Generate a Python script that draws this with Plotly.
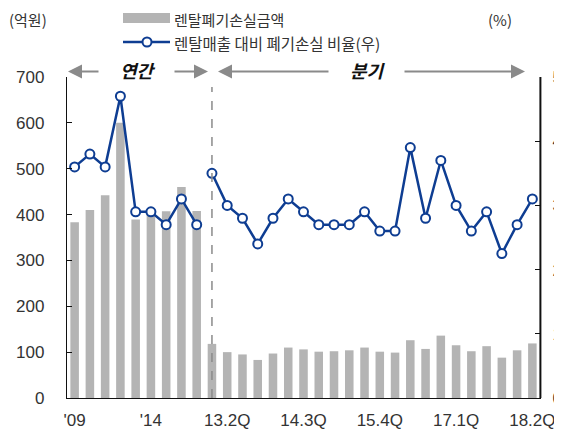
import plotly.graph_objects as go

# ---------------- data ----------------
annual_labels = ["'09", "'10", "'11", "'12", "'13", "'14", "'15", "'16", "'17"]
quarter_labels = ["13.1Q", "13.2Q", "13.3Q", "13.4Q",
                  "14.1Q", "14.2Q", "14.3Q", "14.4Q",
                  "15.1Q", "15.2Q", "15.3Q", "15.4Q",
                  "16.1Q", "16.2Q", "16.3Q", "16.4Q",
                  "17.1Q", "17.2Q", "17.3Q", "17.4Q",
                  "18.1Q", "18.2Q"]
annual_loss = [383, 410, 442, 600, 389, 400, 407, 460, 408]          # 억원
quarter_loss = [118, 100, 95, 83, 97, 110, 106, 101, 102, 104, 110,
                101, 99, 126, 107, 136, 115, 102, 113, 88, 104, 119]  # 억원
annual_ratio = [3.6, 3.8, 3.6, 4.7, 2.9, 2.9, 2.7, 3.1, 2.7]          # %
quarter_ratio = [3.5, 3.0, 2.8, 2.4, 2.8, 3.1, 2.9, 2.7, 2.7, 2.7, 2.9,
                 2.6, 2.6, 3.9, 2.8, 3.7, 3.0, 2.6, 2.9, 2.25, 2.7, 3.1]  # %
tick_show = ["'09", "'14", "13.2Q", "14.3Q", "15.4Q", "17.1Q", "18.2Q"]
tick_text = ["'09", "'14", "13.2Q", "14.3Q", "15.4Q", "17.1Q", "18.2Q"]

bar_name = "렌탈폐기손실금액"
line_name = "렌탈매출 대비 폐기손실 비율(우)"

categories = annual_labels + quarter_labels
loss_values = annual_loss + quarter_loss

# ---------------- style ----------------
OFF = 8                      # page body margin
W, H = 562 - OFF, 430 - OFF  # figure size that fits in the window
PL, PR, PT, PB = 67, 540, 77, 398   # plot box in window pixels
ML, MR, MT, MB = PL - OFF, W - (PR - OFF), PT - OFF, H - (PB - OFF)
PW = PR - PL
PH = PB - PT
FONT = "Liberation Sans, Arial, Noto Sans CJK KR, sans-serif"
KFONT = "Noto Sans CJK KR, Liberation Sans, sans-serif"
BAR_C = "#b4b4b4"
LINE_C = "#0e3d92"
TXT_C = "#333333"
ARROW_C = "#8a8a8a"
AXIS_C = "#111111"


def px(p):
    return (p - PL) / PW


def py(q):
    return (PB - q) / PH


fig = go.Figure()
fig.add_trace(go.Bar(x=categories, y=loss_values, marker_color=BAR_C,
                     marker_line_width=0, name=bar_name, showlegend=False))
for xs, ys in ((annual_labels, annual_ratio), (quarter_labels, quarter_ratio)):
    fig.add_trace(go.Scatter(x=xs, y=ys, yaxis="y2", mode="lines+markers",
                             line=dict(color=LINE_C, width=2.5),
                             marker=dict(size=9, color="white",
                                         line=dict(color=LINE_C, width=2)),
                             name=line_name, showlegend=False))

shapes = []
# dashed separator between annual and quarterly
shapes.append(dict(type="line", xref="x", yref="paper",
                   x0=len(annual_labels), x1=len(annual_labels),
                   y0=0, y1=py(87), layer="above",
                   line=dict(color="#8a8a8a", width=1.5, dash="dash")))
# right axis spine (thin filled strip)
shapes.append(dict(type="rect", xref="paper", yref="paper",
                   x0=px(539.4), x1=px(541.4), y0=0, y1=1, layer="above",
                   fillcolor=AXIS_C, line_width=0))
# custom legend
shapes.append(dict(type="rect", xref="paper", yref="paper",
                   x0=px(123), x1=px(170), y0=py(23), y1=py(13),
                   fillcolor=BAR_C, line_width=0))
shapes.append(dict(type="line", xref="paper", yref="paper",
                   x0=px(123), x1=px(170), y0=py(42), y1=py(42),
                   line=dict(color=LINE_C, width=2.5)))
shapes.append(dict(type="circle", xref="paper", yref="paper",
                   x0=px(142.5), x1=px(151.5), y0=py(46.5), y1=py(37.5),
                   fillcolor="white", line=dict(color=LINE_C, width=2)))

annotations = []


def txt(text, x, y, size=16, anchor="left", color=TXT_C, **kw):
    annotations.append(dict(text=text, x=px(x), y=py(y), xref="paper",
                            yref="paper", showarrow=False, xanchor=anchor,
                            yanchor="middle",
                            font=dict(family=KFONT, size=size, color=color),
                            **kw))


txt("(억원)", 7, 19.5, size=15)
txt("(%)", 486, 19.5, size=15)
txt(bar_name, 172, 19.5, size=15)
txt(line_name, 172, 43, size=15.5)
txt("<b><i>연간</i></b>", 138, 70, size=18, anchor="center", color="#111")
txt("<b><i>분기</i></b>", 368, 70, size=18, anchor="center", color="#111")

for tip, tail in ((68, 100), (208, 173), (218, 330), (525, 403)):
    annotations.append(dict(text="", x=px(tip), y=py(71.5), xref="paper",
                            yref="paper", showarrow=True, ax=tail - tip,
                            ay=0, axref="pixel", ayref="pixel",
                            arrowhead=2, arrowsize=1.4, arrowwidth=2,
                            arrowcolor=ARROW_C, standoff=0, startstandoff=0))

fig.update_layout(
    width=W, height=H,
    margin=dict(l=ML, r=MR, t=MT, b=MB, pad=0, autoexpand=False),
    paper_bgcolor="white", plot_bgcolor="white",
    bargap=0.44,
    showlegend=False,
    font=dict(family=FONT, size=17, color=TXT_C),
    shapes=shapes, annotations=annotations,
    xaxis=dict(type="category", categoryorder="array",
               categoryarray=categories, automargin=False,
               range=[-0.5, len(categories) - 0.5],
               tickmode="array", tickvals=tick_show, ticktext=tick_text,
               ticks="", showline=True, linecolor=AXIS_C, linewidth=1.3,
               showgrid=False, zeroline=False, ticklabelstandoff=6,
               tickfont=dict(family=FONT, size=17, color=TXT_C)),
    yaxis=dict(range=[0, 700], tickmode="linear", tick0=0, dtick=100,
               ticks="inside", ticklen=5, tickcolor=AXIS_C, automargin=False,
               showline=True, mirror=True, linecolor=AXIS_C, linewidth=1.3,
               showgrid=False, zeroline=False, ticklabelstandoff=18,
               tickfont=dict(family=FONT, size=17, color=TXT_C)),
    yaxis2=dict(range=[0, 5], tickmode="linear", tick0=0, dtick=1,
                overlaying="y", side="right", automargin=False,
                ticks="inside", ticklen=5, tickcolor=AXIS_C,
                showline=True, linecolor=AXIS_C, linewidth=1.3,
                showgrid=False, zeroline=False, ticklabelstandoff=8,
                tickfont=dict(family=FONT, size=17, color=TXT_C)),
)

fig.write_html("out.html")
